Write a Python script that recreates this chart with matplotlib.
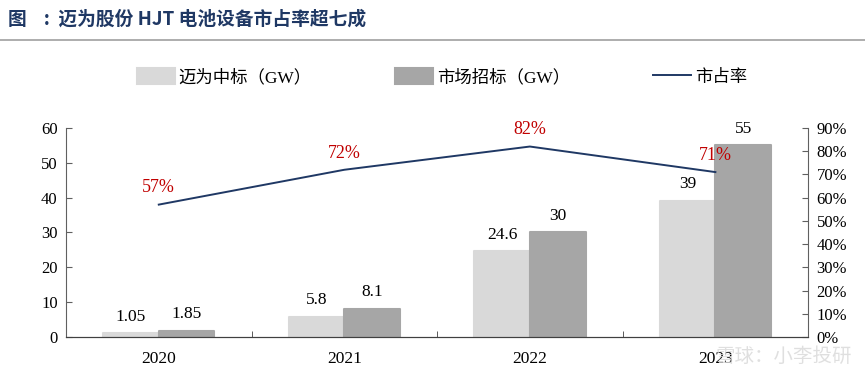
import matplotlib.pyplot as plt
import numpy as np

plt.rcParams['font.family'] = ['Liberation Serif', 'Noto Sans CJK SC']

years = ['2020', '2021', '2022', '2023']
maiwei = [1.05, 5.8, 24.6, 39]
market = [1.85, 8.1, 30, 55]
share = [0.57, 0.72, 0.82, 0.71]
maiwei_labels = ['1.05', '5.8', '24.6', '39']
market_labels = ['1.85', '8.1', '30', '55']

light = '#D9D9D9'
dark = '#A6A6A6'
navy = '#1F3864'

fig = plt.figure(figsize=(8.65, 3.76), dpi=100)
ax = fig.add_axes([0.0763, 0.1037, 0.858, 0.556])
ax2 = ax.twinx()

x = np.arange(len(years))
w = 0.30
b1 = ax.bar(x - w / 2, maiwei, w, color=light, edgecolor=light, linewidth=1.5, joinstyle='round', zorder=2)
b2 = ax.bar(x + w / 2, market, w, color=dark, edgecolor=dark, linewidth=1.5, joinstyle='round', zorder=2)

for xi, v, s in zip(x, maiwei, maiwei_labels):
    ax.text(xi - w / 2, v + 2.5, s, ha='center', va='bottom', fontsize=12.5, color='black')
for xi, v, s in zip(x, market, market_labels):
    ax.text(xi + w / 2, v + 2.5, s, ha='center', va='bottom', fontsize=12.5, color='black')

ax.set_xlim(-0.5, 3.5)
ax.set_ylim(0, 60)
ax.set_yticks(range(0, 61, 10))
ax.set_xticks(x)
ax.set_xticklabels(years, fontsize=12.5)
ax.set_xticks([0.5, 1.5, 2.5], minor=True)
ax.tick_params(axis='x', which='major', length=0, pad=10)
ax.tick_params(axis='x', which='minor', direction='in', length=4, color='#404040')
ax.tick_params(axis='y', direction='in', length=4, labelsize=12, color='#606060', pad=6)

ax2.plot(x, share, color=navy, linewidth=1.4, zorder=3)
for xi, v in zip(x, share):
    ax2.text(xi, v + 0.035, f'{round(v * 100)}%', ha='center', va='bottom', fontsize=13, color='#C00000')
ax2.set_ylim(0, 0.9)
ax2.set_yticks(np.arange(0, 0.91, 0.1))
ax2.set_yticklabels([f'{round(t * 100)}%' for t in np.arange(0, 0.91, 0.1)])
ax2.tick_params(axis='y', direction='in', length=4, labelsize=12, color='#606060', pad=6)

for a in (ax, ax2):
    a.spines['top'].set_visible(False)
    a.spines['left'].set_color('#606060')
    a.spines['right'].set_color('#606060')
    a.spines['bottom'].set_color('#404040')
ax.spines['right'].set_visible(False)
ax2.spines['left'].set_visible(False)

# legend
fig.legend([b1, b2, ax2.lines[0]], ['迈为中标（GW）', '市场招标（GW）', '市占率'],
           loc='center', bbox_to_anchor=(0.511, 0.795), ncol=3, frameon=False,
           fontsize=12.5, handlelength=2.2, handleheight=1.0, columnspacing=4.8, handletextpad=0.2)

# title
fig.text(0.009, 0.95, '图    :  迈为股份 HJT 电池设备市占率超七成', fontsize=13.5, fontweight='bold',
         color=navy, va='center', ha='left', family=['Noto Sans CJK SC'])
fig.add_artist(plt.Line2D([0, 1], [0.893, 0.893], color='#A0A0A0', linewidth=1.2))

# watermark
fig.text(0.985, 0.052, '雪球：小李投研', fontsize=14, color='#D8D8D8', ha='right', va='center',
         family=['Noto Sans CJK SC'], alpha=0.8, zorder=10)

fig.savefig('out.png', dpi=100)
